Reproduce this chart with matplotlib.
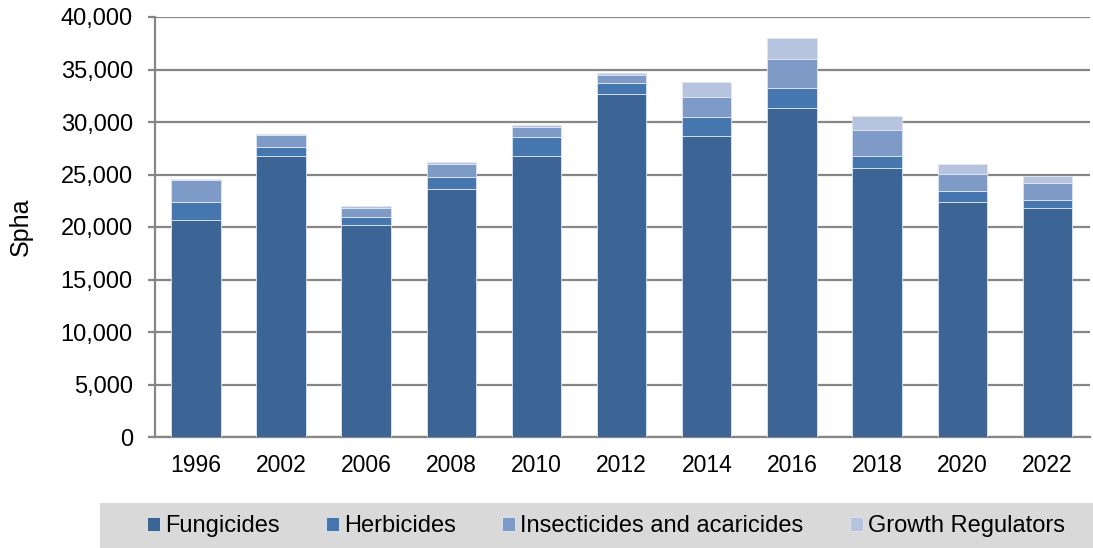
import matplotlib.pyplot as plt
from matplotlib.patches import Rectangle
from matplotlib.ticker import FuncFormatter
import numpy as np

plt.rcParams['font.family'] = ['Liberation Sans', 'DejaVu Sans']

years = ['1996', '2002', '2006', '2008', '2010', '2012', '2014', '2016', '2018', '2020', '2022']
fungicides = [20700, 26750, 20150, 23600, 26800, 32650, 28650, 31350, 25600, 22350, 21850]
herbicides = [1700, 900, 800, 1150, 1800, 1100, 1850, 1900, 1200, 1100, 750]
insecticides = [2100, 1150, 900, 1250, 900, 750, 1900, 2750, 2400, 1600, 1600]
growth_regulators = [100, 100, 150, 150, 200, 200, 1400, 2000, 1350, 950, 700]

series = [
    ('Fungicides', fungicides, '#3c6596'),
    ('Herbicides', herbicides, '#4676ae'),
    ('Insecticides and acaricides', insecticides, '#7e9bc8'),
    ('Growth Regulators', growth_regulators, '#b6c4df'),
]

fig = plt.figure(figsize=(10.93, 5.48), dpi=100)
ax = fig.add_axes([155 / 1093, 1 - 437 / 548, 935 / 1093, 420 / 548])

x = np.arange(len(years))
bottom = np.zeros(len(years))
for name, vals, color in series:
    ax.bar(x, vals, width=0.58, bottom=bottom, color=color, label=name,
           edgecolor='#dfe6f1', linewidth=0.6, zorder=3)
    bottom += np.array(vals)

ax.set_xlim(-0.48, len(years) - 0.5)
ax.set_ylim(0, 40000)
ax.set_yticks(np.arange(0, 40001, 5000))
ax.yaxis.set_major_formatter(FuncFormatter(lambda v, p: f'{int(v):,}'))
ax.set_xticks(x)
ax.set_xticklabels(years)
ax.grid(axis='y', color='#868686', linewidth=1.6, zorder=0)

for side in ['top', 'right']:
    ax.spines[side].set_visible(False)
for side in ['left', 'bottom']:
    ax.spines[side].set_color('#868686')
    ax.spines[side].set_linewidth(1.6)
ax.tick_params(axis='y', length=5, width=1.6, color='#868686', labelsize=17, pad=11)
ax.tick_params(axis='x', length=0, labelsize=16.5, pad=12)
ax.set_ylabel('Spha', fontsize=18)
ax.yaxis.set_label_coords(-122 / 935, 0.5)

# grey band behind the legend
fig.patches.append(Rectangle((100 / 1093, 0), 993 / 1093, 45 / 548,
                             transform=fig.transFigure, facecolor='#d9d9d9',
                             edgecolor='none', zorder=0))
fig.legend(loc='center', bbox_to_anchor=(606 / 1093, 1 - 526 / 548), ncol=4,
           frameon=False, fontsize=17, handlelength=0.55, handleheight=0.55,
           handletextpad=0.22, columnspacing=1.95)

fig.savefig('out.png', dpi=100)
